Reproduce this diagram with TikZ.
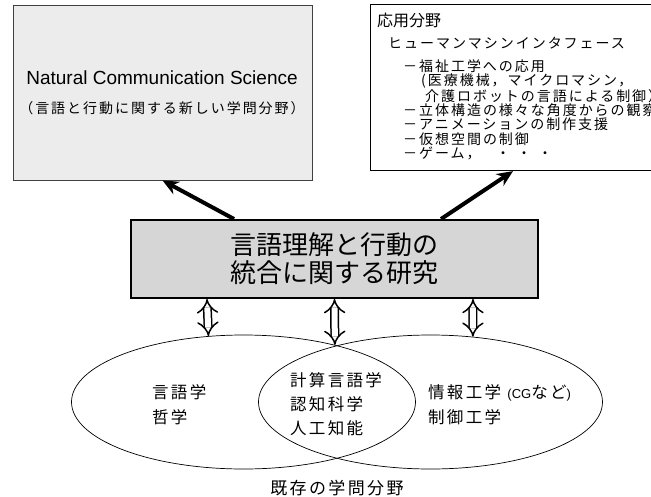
\documentclass[tikz,border=0pt]{standalone}
\usepackage{fontspec}
\setmainfont{Noto Sans CJK JP}
\newfontfamily\latinsans{Liberation Sans}
\newfontfamily\jpwide{Noto Sans CJK JP}[LetterSpace=14]
\usetikzlibrary{arrows.meta, positioning, shapes.geometric}

\tikzset{
  fieldbox/.style={draw, rectangle, line width=0.8pt},
  bigarrow/.style={line width=4pt, -{Stealth[length=16pt,width=14pt]}},
  linkarrow/.style={double, double distance=6pt, line width=1.5pt, {Implies}-{Implies}},
  field/.style={draw, ellipse, line width=0.7pt, minimum width=344pt, minimum height=134pt, inner sep=0pt},
  fieldtext/.style={anchor=west, align=left, inner sep=0pt, font=\jpwide\fontsize{16.5}{25}\selectfont}
}

\begin{document}
\begin{tikzpicture}[x=1pt, y=-1pt]
    \useasboundingbox (0,0) rectangle (651,496);
    \clip (0,0) rectangle (651,496);

    % New field (left) and applications (right)
    \node[fieldbox, draw=black!75, fill=gray!15, minimum width=299pt, minimum height=175pt] (ncsbox) at (162.5,92.5) {};
    \node[font=\latinsans\fontsize{19}{22}\selectfont] (ncs) at (162,78) {Natural Communication Science};
    \node[font=\jpwide\fontsize{14}{16}\selectfont] (ncsjp) at (162,108) {（言語と行動に関する新しい学問分野）};

    \node[fieldbox, line width=1.1pt, fill=white, minimum width=400pt, minimum height=166pt, anchor=north west] (appbox) at (370,4) {};
    \node[anchor=west, inner sep=0pt, font=\fontsize{16}{18}\selectfont] (app) at (377,20) {応用分野};
    \node[anchor=west, inner sep=0pt, font=\jpwide\fontsize{14}{16}\selectfont] (hmi) at (388,43) {ヒューマンマシンインタフェース};
    \node[anchor=north west, align=left, inner sep=0pt, font=\jpwide\fontsize{14}{14.4}\selectfont] (uses) at (403,59)
      {－福祉工学への応用\\
       \hspace*{18pt}(医療機械，マイクロマシン，\\
       \hspace*{22pt}介護ロボットの言語による制御）\\
       －立体構造の様々な角度からの観察\\
       －アニメーションの制作支援\\
       －仮想空間の制御\\
       －ゲーム，\hspace{1.1em}・\hspace{0.5em}・\hspace{0.5em}・};

    % Central research box
    \node[fieldbox, line width=2pt, fill=gray!32, minimum width=407pt, minimum height=78pt, align=center, font=\fontsize{26}{28}\selectfont] (rsch) at (334.5,259) {言語理解と行動の\\統合に関する研究};

    % Existing fields
    \node[field] (lft) at (243.5,402) {};
    \node[field] (rgt) at (430.5,402) {};
    \node[fieldtext] (ling) at (152,404.5) {言語学\\哲学};
    \node[fieldtext, font=\jpwide\fontsize{16.5}{24}\selectfont] (cogs) at (290,404) {計算言語学\\認知科学\\人工知能};
    \node[fieldtext] (info) at (428,404.5) {情報工学\,{\latinsans\fontsize{13}{15}\selectfont\ (CG}など{\latinsans\fontsize{13}{15}\selectfont )}\\制御工学};
    \node[font=\jpwide\fontsize{17}{20}\selectfont] (exist) at (337,488) {既存の学問分野};

    % Connections
    \draw[bigarrow] ([xshift=104pt]rsch.north west) -- (ncsbox.south);
    \draw[bigarrow] ([xshift=-98pt]rsch.north east) -- ([xshift=143pt]appbox.south west);
    \draw[linkarrow] ([xshift=77pt]rsch.south west) -- (lft.118);
    \draw[linkarrow] (rsch.south) -- (lft.32);
    \draw[linkarrow] ([xshift=-66pt]rsch.south east) -- (rgt.57);
\end{tikzpicture}
\end{document}
